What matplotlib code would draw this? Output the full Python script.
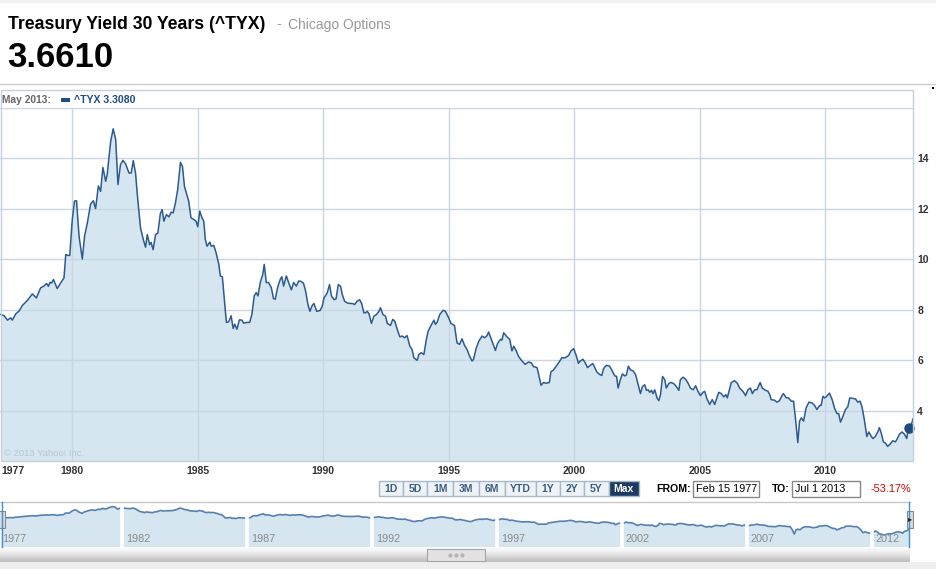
import numpy as np
import matplotlib.pyplot as plt
from matplotlib.patches import Rectangle
from matplotlib.transforms import blended_transform_factory

plt.rcParams['font.family'] = ['Liberation Sans', 'DejaVu Sans']

# Data
years = [
    1977.15, 1977.28, 1977.42, 1977.55, 1977.61, 1977.75, 1977.88, 1978.01, 1978.21, 1978.41,
    1978.57, 1978.74, 1978.87, 1978.98, 1979.05, 1979.11, 1979.18, 1979.25, 1979.40, 1979.54,
    1979.67, 1979.74, 1979.80, 1979.90, 1980.00, 1980.09, 1980.17, 1980.27, 1980.40, 1980.49,
    1980.60, 1980.73, 1980.84, 1980.93, 1981.04, 1981.13, 1981.22, 1981.33, 1981.39, 1981.53,
    1981.63, 1981.73, 1981.82, 1981.92, 1982.02, 1982.12, 1982.26, 1982.35, 1982.43, 1982.52,
    1982.61, 1982.72, 1982.83, 1982.92, 1982.99, 1983.08, 1983.14, 1983.22, 1983.32, 1983.41,
    1983.51, 1983.58, 1983.65, 1983.75, 1983.85, 1983.94, 1984.02, 1984.11, 1984.20, 1984.31,
    1984.39, 1984.47, 1984.58, 1984.64, 1984.73, 1984.84, 1984.93, 1985.00, 1985.08, 1985.17,
    1985.24, 1985.30, 1985.37, 1985.48, 1985.54, 1985.64, 1985.73, 1985.84, 1985.90, 1985.98,
    1986.06, 1986.14, 1986.23, 1986.33, 1986.41, 1986.47, 1986.56, 1986.66, 1986.76, 1986.83,
    1986.96, 1987.07, 1987.16, 1987.25, 1987.33, 1987.40, 1987.49, 1987.59, 1987.65, 1987.73,
    1987.82, 1987.93, 1988.02, 1988.09, 1988.18, 1988.29, 1988.35, 1988.42, 1988.53, 1988.62,
    1988.73, 1988.82, 1988.93, 1989.02, 1989.10, 1989.21, 1989.30, 1989.39, 1989.47, 1989.56,
    1989.63, 1989.74, 1989.87, 1989.96, 1990.03, 1990.16, 1990.25, 1990.33, 1990.43, 1990.51,
    1990.60, 1990.69, 1990.76, 1990.85, 1990.96, 1991.06, 1991.16, 1991.25, 1991.35, 1991.45,
    1991.53, 1991.62, 1991.69, 1991.75, 1991.82, 1991.92, 1992.02, 1992.12, 1992.22, 1992.28,
    1992.38, 1992.48, 1992.55, 1992.68, 1992.77, 1992.85, 1992.95, 1993.05, 1993.15, 1993.24,
    1993.34, 1993.45, 1993.54, 1993.61, 1993.74, 1993.81, 1993.90, 1994.01, 1994.11, 1994.18,
    1994.27, 1994.41, 1994.47, 1994.54, 1994.64, 1994.78, 1994.87, 1995.00, 1995.09, 1995.23,
    1995.33, 1995.43, 1995.53, 1995.63, 1995.73, 1995.82, 1995.93, 1995.99, 1996.09, 1996.20,
    1996.33, 1996.43, 1996.53, 1996.59, 1996.69, 1996.77, 1996.86, 1996.95, 1997.06, 1997.12,
    1997.19, 1997.32, 1997.43, 1997.52, 1997.59, 1997.69, 1997.79, 1997.92, 1998.05, 1998.18,
    1998.29, 1998.38, 1998.52, 1998.58, 1998.68, 1998.78, 1998.89, 1999.01, 1999.07, 1999.18,
    1999.29, 1999.38, 1999.51, 1999.64, 1999.78, 1999.87, 1999.98, 2000.08, 2000.17, 2000.24,
    2000.35, 2000.45, 2000.53, 2000.64, 2000.74, 2000.84, 2000.90, 2001.01, 2001.10, 2001.17,
    2001.28, 2001.41, 2001.53, 2001.62, 2001.69, 2001.75, 2001.84, 2001.92, 2002.02, 2002.08,
    2002.16, 2002.24, 2002.35, 2002.45, 2002.55, 2002.64, 2002.72, 2002.81, 2002.88, 2002.95,
    2003.01, 2003.08, 2003.14, 2003.21, 2003.30, 2003.37, 2003.44, 2003.52, 2003.61, 2003.67,
    2003.78, 2003.87, 2003.97, 2004.07, 2004.17, 2004.23, 2004.34, 2004.44, 2004.54, 2004.63,
    2004.74, 2004.84, 2004.93, 2005.03, 2005.13, 2005.20, 2005.29, 2005.40, 2005.50, 2005.60,
    2005.66, 2005.76, 2005.86, 2005.96, 2006.04, 2006.10, 2006.17, 2006.26, 2006.39, 2006.50,
    2006.59, 2006.72, 2006.83, 2006.92, 2007.02, 2007.10, 2007.19, 2007.28, 2007.41, 2007.49,
    2007.59, 2007.72, 2007.79, 2007.85, 2007.98, 2008.08, 2008.18, 2008.28, 2008.34, 2008.45,
    2008.54, 2008.65, 2008.74, 2008.82, 2008.91, 2008.98, 2009.05, 2009.14, 2009.24, 2009.35,
    2009.48, 2009.58, 2009.67, 2009.78, 2009.84, 2009.91, 2009.97, 2010.04, 2010.17, 2010.28,
    2010.37, 2010.47, 2010.54, 2010.61, 2010.70, 2010.81, 2010.90, 2010.98, 2011.10, 2011.21,
    2011.30, 2011.39, 2011.47, 2011.57, 2011.66, 2011.74, 2011.83, 2011.90, 2012.00, 2012.10,
    2012.16, 2012.23, 2012.32, 2012.40, 2012.49, 2012.59, 2012.69, 2012.80, 2012.85, 2012.96,
    2013.06, 2013.16, 2013.25, 2013.29, 2013.36, 2013.42, 2013.50,
]
yields = [
    7.80, 7.76, 7.58, 7.67, 7.58, 7.83, 7.94, 8.16, 8.36, 8.62,
    8.46, 8.86, 8.93, 9.03, 8.92, 9.08, 9.05, 9.19, 8.83, 9.06,
    9.25, 10.18, 10.15, 10.14, 11.56, 12.30, 12.31, 10.90, 10.00, 10.90,
    11.43, 12.18, 12.31, 12.00, 12.90, 12.68, 13.63, 13.08, 13.34, 14.66,
    15.16, 14.73, 12.95, 13.74, 13.91, 13.78, 13.41, 13.41, 13.90, 13.41,
    12.35, 11.23, 10.77, 10.47, 10.97, 10.57, 10.66, 10.37, 10.97, 11.03,
    11.80, 11.96, 11.50, 11.76, 11.67, 11.86, 11.83, 12.22, 12.75, 13.83,
    13.67, 12.88, 12.49, 12.29, 11.63, 11.57, 11.50, 11.28, 11.90, 11.63,
    11.50, 10.78, 10.51, 10.67, 10.51, 10.54, 10.25, 9.79, 9.33, 9.30,
    8.41, 7.49, 7.51, 7.75, 7.25, 7.42, 7.22, 7.59, 7.58, 7.46,
    7.49, 7.49, 7.82, 8.54, 8.67, 8.54, 9.07, 9.39, 9.79, 9.07,
    9.07, 8.87, 8.43, 8.41, 8.87, 9.20, 9.30, 8.93, 9.33, 9.07,
    8.78, 9.07, 8.93, 9.13, 9.12, 9.05, 8.72, 8.20, 7.93, 8.16,
    8.24, 7.93, 7.96, 8.13, 8.46, 8.66, 8.99, 8.53, 8.39, 8.42,
    8.99, 8.92, 8.59, 8.33, 8.26, 8.24, 8.24, 8.20, 8.33, 8.39,
    8.24, 7.87, 7.87, 7.93, 7.84, 7.45, 7.74, 7.80, 7.93, 8.07,
    7.80, 7.74, 7.45, 7.37, 7.61, 7.54, 7.21, 6.92, 6.95, 6.88,
    6.97, 6.55, 6.42, 6.09, 5.99, 6.22, 6.29, 6.22, 6.82, 7.14,
    7.32, 7.58, 7.41, 7.50, 7.80, 7.97, 7.93, 7.67, 7.45, 7.37,
    6.68, 6.62, 6.84, 6.58, 6.42, 6.18, 5.96, 6.03, 6.45, 6.75,
    6.95, 6.88, 6.97, 7.11, 6.84, 6.62, 6.38, 6.66, 6.82, 6.79,
    7.08, 6.92, 6.82, 6.36, 6.55, 6.36, 6.13, 5.96, 5.83, 5.92,
    5.89, 5.74, 5.70, 5.43, 5.00, 5.11, 5.08, 5.11, 5.53, 5.61,
    5.76, 5.89, 6.09, 6.09, 6.18, 6.36, 6.45, 6.18, 5.87, 5.96,
    6.03, 5.87, 5.70, 5.79, 5.86, 5.66, 5.53, 5.43, 5.39, 5.66,
    5.79, 5.76, 5.54, 5.37, 5.35, 4.89, 5.22, 5.45, 5.37, 5.41,
    5.76, 5.61, 5.57, 5.41, 5.02, 4.67, 4.95, 5.02, 4.80, 4.82,
    4.72, 4.80, 4.67, 4.82, 4.50, 4.39, 4.63, 5.35, 5.22, 4.89,
    5.08, 5.11, 5.06, 4.95, 4.80, 5.22, 5.32, 5.24, 5.08, 4.89,
    4.82, 4.98, 4.76, 4.59, 4.72, 4.76, 4.46, 4.24, 4.43, 4.24,
    4.43, 4.72, 4.67, 4.54, 4.63, 4.50, 4.76, 5.11, 5.18, 5.08,
    4.89, 4.76, 4.59, 4.82, 4.89, 4.67, 4.82, 4.82, 5.11, 4.89,
    4.82, 4.76, 4.63, 4.43, 4.41, 4.33, 4.39, 4.59, 4.67, 4.50,
    4.50, 4.37, 4.37, 3.65, 2.73, 3.58, 3.71, 3.58, 4.10, 4.33,
    4.30, 4.20, 4.04, 4.20, 4.20, 4.56, 4.50, 4.54, 4.69, 4.43,
    4.10, 3.88, 3.88, 3.54, 3.75, 4.04, 4.14, 4.50, 4.48, 4.46,
    4.33, 4.37, 4.14, 3.58, 2.97, 3.15, 2.99, 2.89, 2.97, 3.16,
    3.32, 3.12, 2.76, 2.71, 2.58, 2.67, 2.80, 2.76, 2.84, 3.06,
    3.15, 3.06, 2.89, 3.15, 3.31, 3.39, 3.67,
]

x_ticks = [1980, 1985, 1990, 1995, 2000, 2005, 2010]
y_ticks = [4, 6, 8, 10, 12, 14]
nav_years = [1982, 1987, 1992, 1997, 2002, 2007, 2012]
ranges = ["1D", "5D", "1M", "3M", "6M", "YTD", "1Y", "2Y", "5Y", "Max"]

marker_year = 2013.36
marker_value = 3.3080
last_price = "3.6610"
change_pct = "-53.17%"
date_from = "Feb 15 1977"
date_to = "Jul 1 2013"

# colours
FILL = "#d6e6f1"
LINE = "#2b5b8f"
GRID = "#c8d6e1"
BOX = "#c3d1dc"

W, H = 936, 569
fig = plt.figure(figsize=(W / 100, H / 100), dpi=100)
fig.patch.set_facecolor("white")


def rect(x0, y0, x1, y1):
    # pixel box (top-left origin) -> figure fraction
    return [x0 / W, 1 - y1 / H, (x1 - x0) / W, (y1 - y0) / H]


# Main chart
ax = fig.add_axes(rect(0, 107.6, 913, 461))
ax.fill_between(years, yields, 2, color=FILL, lw=0, zorder=1)
ax.plot(years, yields, color=LINE, lw=1.1, zorder=3)
ax.plot(marker_year, marker_value, "o", ms=6.5, color="#1f4a7d", zorder=4, clip_on=False)
ax.set_xlim(1977.12, 2013.5)
ax.set_ylim(2, 16)
ax.set_xticks(x_ticks)
ax.set_yticks(y_ticks)
ax.axhline(16, color=GRID, lw=1, zorder=2)
ax.grid(True, color=GRID, lw=1, zorder=2)
ax.set_axisbelow(False)
ax.yaxis.tick_right()
ax.tick_params(axis="y", length=0, pad=3, labelsize=7.5, labelcolor="#333333")
ax.tick_params(axis="x", length=0, pad=3.5, labelsize=7.5, labelcolor="#333333")
for lab in ax.get_xticklabels() + ax.get_yticklabels():
    lab.set_fontweight("bold")
for s in ax.spines.values():
    s.set_visible(False)

# Navigator
nav = fig.add_axes(rect(0, 502, 909, 547))
nav.set_yscale("log")
nav.fill_between(years, yields, 1.0, color=FILL, lw=0)
nav.plot(years, yields, color="#5580ad", lw=1.2)
for yr in nav_years:
    nav.axvline(yr, color="white", lw=2.6)
nav.set_xlim(1977.12, 2013.5)
nav.set_ylim(1.22, 20.3)
nav.axis("off")
tr = blended_transform_factory(nav.transData, nav.transAxes)
nav.text(1977.2, 0.17, "1977", transform=tr, fontsize=7.8, color="#8a8a8a", va="center")
for yr in nav_years:
    nav.text(yr + 0.16, 0.17, str(yr), transform=tr, fontsize=7.8, color="#8a8a8a", va="center")

# Overlay in pixel coordinates for the page furniture
ov = fig.add_axes([0, 0, 1, 1], zorder=5)
ov.patch.set_visible(False)
ov.axis("off")

# top strip and header
ov.add_patch(Rectangle((0, 0), W, 3, color="#f2f2f2", lw=0))
ov.text(8, 28.5, "Treasury Yield 30 Years (^TYX)", fontsize=12.7, weight="bold", color="black", va="baseline")
ov.text(276, 28.5, "-", fontsize=10, color="#999999", va="baseline")
ov.text(288, 28.5, "Chicago Options", fontsize=10, color="#999999", va="baseline")
ov.text(7, 66.7, last_price, fontsize=25, weight="bold", color="black", va="baseline")
ov.plot([0, W], [84, 84], color="#cccccc", lw=1)
ov.add_patch(Rectangle((932, 87), 2, 2, color="black", lw=0))

# chart frame + legend strip
ov.add_patch(Rectangle((0.5, 90), 912.5, 371, fill=False, edgecolor=BOX, lw=1))
ov.text(2, 99.5, "May 2013:", fontsize=7.4, weight="bold", color="#666666", va="center")
ov.add_patch(Rectangle((60.7, 97.5), 9.3, 4, color="#1f4f85", lw=0))
ov.text(74, 99.5, "^TYX %.4f" % marker_value, fontsize=7.6, weight="bold", color="#1f4f85", va="center")
ov.text(3.5, 453, "\u00a9 2013 Yahoo! Inc.", fontsize=6.8, color="#b5c6d4", va="center")
ov.text(1, 470.5, "1977", fontsize=7.5, weight="bold", color="#333333", va="center")

# range buttons
edges = [379, 402.7, 427.3, 453.3, 479.3, 505, 535.7, 560, 584, 608.7, 638.7]
for i, lab in enumerate(ranges):
    x0, x1 = edges[i], edges[i + 1]
    sel = lab == "Max"
    ov.add_patch(Rectangle((x0, 480.7), x1 - x0, 15.5,
                           facecolor="#1d3a63" if sel else "#eef3f8",
                           edgecolor="#a7b8c8", lw=1))
    ov.text((x0 + x1) / 2, 488.8, lab, fontsize=7.5, weight="bold",
            color="white" if sel else "#3d5d80", ha="center", va="center")

# from / to boxes
ov.text(656, 489, "FROM:", fontsize=7.6, weight="bold", color="black", va="center")
ov.add_patch(Rectangle((692.7, 480.7), 66.6, 16, facecolor="white", edgecolor="#888888", lw=1))
ov.text(695.5, 489, date_from, fontsize=7.8, color="black", va="center")
ov.text(772, 489, "TO:", fontsize=7.6, weight="bold", color="black", va="center")
ov.add_patch(Rectangle((792.3, 480.7), 67.7, 16, facecolor="white", edgecolor="#888888", lw=1))
ov.text(795, 489, date_to, fontsize=7.8, color="black", va="center")
ov.text(870.7, 489, change_pct, fontsize=7.8, color="#d40000", va="center")

# navigator furniture
ov.plot([0, 910], [501.7, 501.7], color="#c8c8c8", lw=1)
grad = np.array([[0.0], [0.15], [0.3], [0.45], [0.6], [0.75], [0.9], [1.0]])
ov.imshow(grad, extent=(0, 910, 562, 547), aspect="auto", cmap="Greys",
          vmin=-0.1, vmax=3.0, interpolation="bilinear")
ov.add_patch(Rectangle((0, 562), W, 7, color="#efefef", lw=0))
ov.add_patch(Rectangle((427, 549), 58, 12, facecolor="#e2e2e2", edgecolor="#a6a6a6", lw=0.8))
ov.scatter([450, 456, 462], [555, 555, 555], s=4, color="#b5b5b5", zorder=6)
ov.plot([1.7, 1.7], [502, 547], color="#3b8fd9", lw=1)
ov.plot([909, 909], [502, 547], color="#3b8fd9", lw=1)
ov.add_patch(Rectangle((-2, 511), 6.5, 17, facecolor="#dcdcdc", edgecolor="#8a8a8a", lw=0.8))
ov.add_patch(Rectangle((906.7, 511), 6, 17, facecolor="#dcdcdc", edgecolor="#8a8a8a", lw=0.8))
ov.text(909.7, 519.5, "\u25b8", fontsize=6, color="#222222", ha="center", va="center")

ov.set_xlim(0, W)
ov.set_ylim(H, 0)

fig.savefig("out.png", dpi=100)
